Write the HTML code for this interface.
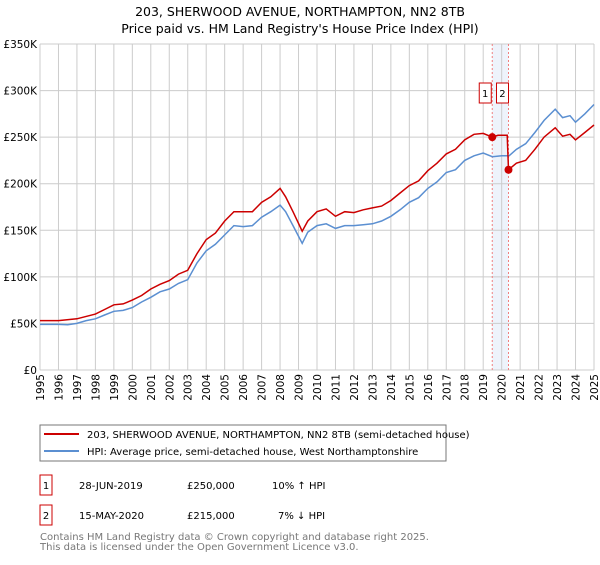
<!DOCTYPE html>
<html><head><meta charset="utf-8"><style>
body{margin:0;background:#fff;font-family:"Liberation Sans","DejaVu Sans",sans-serif;}
svg text{font-family:"DejaVu Sans","Liberation Sans",sans-serif;}
</style></head><body>
<svg id="c" width="600" height="560" viewBox="0 0 600 560" xmlns="http://www.w3.org/2000/svg">
<text x="300" y="16" text-anchor="middle" font-size="12.5">203, SHERWOOD AVENUE, NORTHAMPTON, NN2 8TB</text>
<text x="300" y="33" text-anchor="middle" font-size="12.5">Price paid vs. HM Land Registry's House Price Index (HPI)</text>
<g id="grid"></g><g id="series"></g><g id="ann"></g>
<g>
<rect x="40" y="425" width="406" height="36" fill="#fff" stroke="#777"/>
<line x1="44" y1="434" x2="79" y2="434" stroke="#cc0000" stroke-width="2"/>
<text x="87" y="438" font-size="10">203, SHERWOOD AVENUE, NORTHAMPTON, NN2 8TB (semi-detached house)</text>
<line x1="44" y1="451" x2="79" y2="451" stroke="#5b8fd1" stroke-width="2"/>
<text x="87" y="455" font-size="10">HPI: Average price, semi-detached house, West Northamptonshire</text>
</g>
<g font-size="10">
<rect x="40" y="475" width="12" height="20" fill="#fff" stroke="#cc0000"/>
<text x="46" y="489" text-anchor="middle">1</text>
<text x="79" y="489">28-JUN-2019</text>
<text x="187" y="489">£250,000</text>
<text x="272" y="489">10% ↑ HPI</text>
<rect x="40" y="505" width="12" height="20" fill="#fff" stroke="#cc0000"/>
<text x="46" y="519" text-anchor="middle">2</text>
<text x="79" y="519">15-MAY-2020</text>
<text x="187" y="519">£215,000</text>
<text x="278" y="519">7% ↓ HPI</text>
</g>
<text x="40" y="540" font-size="10" fill="#777">Contains HM Land Registry data © Crown copyright and database right 2025.</text>
<text x="40" y="550" font-size="10" fill="#777">This data is licensed under the Open Government Licence v3.0.</text>
</svg>
<script>
const yTicks=[0,50,100,150,200,250,300,350];
const years=[1995,1996,1997,1998,1999,2000,2001,2002,2003,2004,2005,2006,2007,2008,2009,2010,2011,2012,2013,2014,2015,2016,2017,2018,2019,2020,2021,2022,2023,2024,2025];
const hpiT=[1995,1996,1996.5,1997,1997.5,1998,1998.5,1999,1999.5,2000,2000.5,2001,2001.5,2002,2002.5,2003,2003.5,2004,2004.5,2005,2005.5,2006,2006.5,2007,2007.5,2008,2008.3,2008.7,2009.2,2009.5,2010,2010.5,2011,2011.5,2012,2012.5,2013,2013.5,2014,2014.5,2015,2015.5,2016,2016.5,2017,2017.5,2018,2018.5,2019,2019.5,2020,2020.4,2020.8,2021.3,2021.8,2022.3,2022.9,2023.3,2023.7,2024,2024.5,2025];
const hpiV=[49,49,48.5,50,53,55,59,63,64,67,73,78,84,87,93,97,115,128,135,145,155,154,155,164,170,177,170,155,136,148,155,157,152,155,155,156,157,160,165,172,180,185,195,202,212,215,225,230,233,229,230,230,237,243,255,268,280,271,273,266,275,285];
const priceT=[1995,1996,1997,1998,1998.5,1999,1999.5,2000,2000.5,2001,2001.5,2002,2002.5,2003,2003.5,2004,2004.5,2005,2005.5,2006,2006.5,2007,2007.5,2008,2008.3,2008.7,2009.2,2009.5,2010,2010.5,2011,2011.5,2012,2012.5,2013,2013.5,2014,2014.5,2015,2015.5,2016,2016.5,2017,2017.5,2018,2018.5,2019,2019.49,2019.8,2020.3,2020.37,2020.8,2021.3,2021.8,2022.3,2022.9,2023.3,2023.7,2024,2024.5,2025];
const priceV=[53,53,55,60,65,70,71,75,80,87,92,96,103,107,125,140,147,160,170,170,170,180,186,195,186,170,149,160,170,173,165,170,169,172,174,176,182,190,198,203,214,222,232,237,247,253,254,250,252,252,215,222,225,237,250,260,251,253,247,255,263];
const saleT=[2019.49,2020.37];
const saleV=[250,215];
const saleLabels=["1","2"];
const NS="http://www.w3.org/2000/svg";
const X0=40,X1=594,Y0=370,Y1=44;
const xs=t=>X0+(t-1995)/30*(X1-X0);
const ys=v=>Y0-v/350*(Y0-Y1);
function mk(tag,attrs,parent){const e=document.createElementNS(NS,tag);for(const k in attrs)e.setAttribute(k,attrs[k]);parent.appendChild(e);return e;}
const grid=document.getElementById('grid'),ser=document.getElementById('series'),ann=document.getElementById('ann');
// shaded band
const band=mk('rect',{x:xs(saleT[0]),y:Y1,width:xs(saleT[1])-xs(saleT[0]),height:Y0-Y1,fill:'#eef3fb'},grid);


yTicks.forEach(v=>{
 const l=mk('line',{x1:X0,x2:X1,y1:ys(v),y2:ys(v),stroke:'#ccc','stroke-width':1},grid);
 
 
 const t=mk('text',{x:X0-3,y:ys(v)+4,'text-anchor':'end','font-size':10.5},grid);
 t.textContent=v===0?'£0':'£'+v+'K';
 
 
});
years.forEach(y=>{
 const l=mk('line',{x1:xs(y),x2:xs(y),y1:Y1,y2:Y0,stroke:'#ccc','stroke-width':1},grid);
 
 
 const t=mk('text',{x:0,y:0,'text-anchor':'end','font-size':10.5,transform:`translate(${xs(y)+4},${Y0+4}) rotate(-90)`},grid);
 t.textContent=y;
 
 
});
saleT.forEach(t=>{
 const l=mk('line',{x1:xs(t),x2:xs(t),y1:Y1,y2:Y0,stroke:'#f08080','stroke-width':1,'stroke-dasharray':'2,2'},grid);
 
 
});
function path(T,V){return T.map((t,i)=>(i?'L':'M')+xs(t).toFixed(1)+','+ys(V[i]).toFixed(1)).join('');}
const hp=mk('path',{d:path(hpiT,hpiV),fill:'none',stroke:'#5b8fd1','stroke-width':1.5},ser);


const pp=mk('path',{d:path(priceT,priceV),fill:'none',stroke:'#cc0000','stroke-width':1.5},ser);


saleT.forEach((t,i)=>{
 const c=mk('circle',{cx:xs(t),cy:ys(saleV[i]),r:4,fill:'#cc0000'},ann);
 
 
 const bx=i===0?xs(t)-12:xs(t)-11;
 const r=mk('rect',{x:bx-1,y:83,width:12,height:20,fill:'#fff',stroke:'#cc0000'},ann);
 
 
 const tx=mk('text',{x:bx+5,y:97,'text-anchor':'middle','font-size':10},ann);
 tx.textContent=saleLabels[i];
 
 
});
</script>
</body></html>
